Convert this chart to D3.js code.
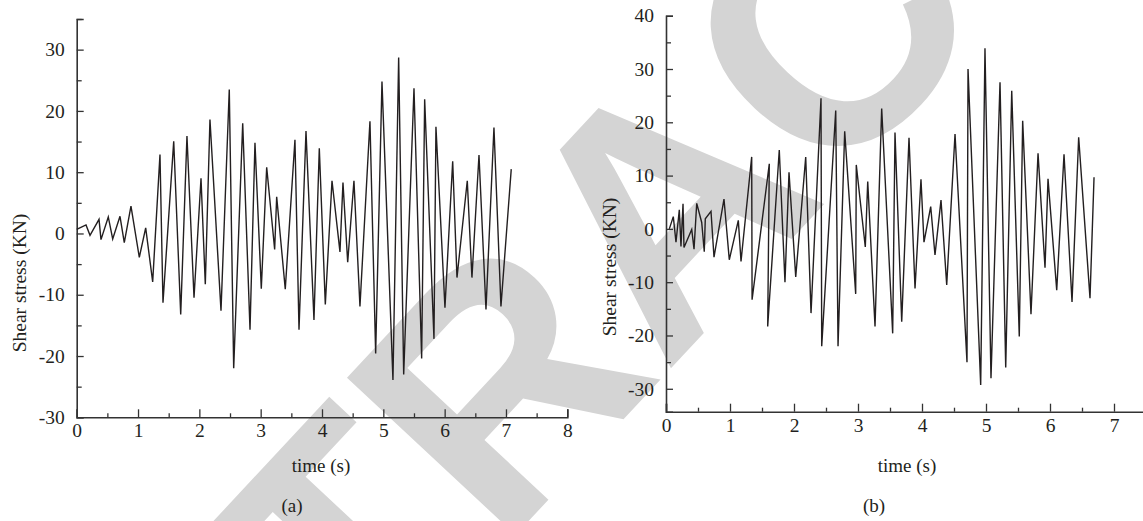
<!DOCTYPE html>
<html>
<head>
<meta charset="utf-8">
<script src="https://cdn.jsdelivr.net/npm/d3@7"></script>
<style>
  body { margin: 0; background: #fff; }
  svg text { font-family: "Liberation Serif", "DejaVu Serif", serif; fill: #231f20; }
</style>
</head>
<body>
<svg id="chart" width="1143" height="521"></svg>
<script>
// panel (a): time (s) and shear stress (KN)
const timeA = [0, 0.152, 0.217, 0.364, 0.396, 0.515, 0.587, 0.706, 0.776, 0.885, 1.021, 1.125, 1.239, 1.358, 1.407,
  1.582, 1.696, 1.798, 1.913, 2.027, 2.097, 2.173, 2.353, 2.488, 2.560, 2.707, 2.826, 2.907, 3.010, 3.098, 3.228,
  3.261, 3.401, 3.559, 3.625, 3.739, 3.869, 3.956, 4.054, 4.163, 4.293, 4.342, 4.419, 4.521, 4.619, 4.782, 4.875,
  4.978, 5.157, 5.250, 5.332, 5.500, 5.625, 5.674, 5.826, 5.858, 6.005, 6.131, 6.201, 6.369, 6.445, 6.560, 6.674,
  6.804, 6.918, 7.086];
const stressA = [0.65, 1.4, -0.3, 2.3, -1.0, 2.7, -0.9, 2.8, -1.5, 4.45, -3.9, 0.9, -7.9, 12.9, -11.3,
  15.05, -13.2, 15.9, -10.5, 9.0, -8.3, 18.6, -12.6, 23.5, -22.0, 18.0, -15.7, 14.8, -9.0, 10.8, -2.6,
  6.0, -9.1, 15.3, -15.7, 16.7, -14.1, 13.9, -11.6, 8.6, -3.0, 8.3, -4.7, 8.6, -11.9, 18.3, -19.6,
  24.8, -23.9, 28.7, -23.0, 23.7, -20.4, 21.9, -17.2, 17.4, -12.1, 11.8, -7.2, 8.6, -7.2, 12.8, -12.4,
  17.3, -11.9, 10.5];

// panel (b)
const timeB = [0.052, 0.114, 0.156, 0.208, 0.234, 0.266, 0.281, 0.402, 0.438, 0.480, 0.558, 0.598, 0.614, 0.703,
  0.750, 0.906, 0.989, 1.130, 1.172, 1.339, 1.345, 1.614, 1.589, 1.770, 1.859, 1.922, 2.027, 2.183, 2.266, 2.422,
  2.433, 2.652, 2.688, 2.792, 2.964, 2.973, 3.114, 3.152, 3.266, 3.370, 3.542, 3.578, 3.683, 3.797, 3.891, 3.984,
  4.031, 4.136, 4.203, 4.297, 4.386, 4.516, 4.703, 4.719, 4.917, 4.984, 5.078, 5.219, 5.308, 5.402, 5.520, 5.573,
  5.703, 5.813, 5.922, 5.969, 6.105, 6.219, 6.344, 6.448, 6.625, 6.688];
const stressB = [0.0, 2.3, -2.5, 3.6, -3.3, 4.7, -3.5, -0.1, -3.8, 4.8, 1.2, -4.3, 1.9, 3.3,
  -5.3, 5.6, -5.8, 1.6, -6.1, 13.5, -13.3, 12.2, -18.3, 14.8, -10.0, 10.6, -9.0, 13.5, -15.8, 24.5,
  -22.0, 22.2, -22.0, 18.3, -12.2, 12.0, -3.4, 8.9, -18.3, 22.6, -19.6, 18.1, -17.4, 17.1, -11.2, 9.3,
  -2.5, 4.2, -4.9, 5.4, -10.5, 17.8, -25.0, 30.0, -29.3, 33.9, -28.0, 27.5, -26.0, 25.9, -20.2, 20.3,
  -16.0, 14.2, -7.3, 9.4, -11.5, 14.0, -13.7, 17.2, -13.0, 9.7];

const xTicksA = [0, 1, 2, 3, 4, 5, 6, 7, 8];
const yTicksA = [-30, -20, -10, 0, 10, 20, 30];
const xTicksB = [0, 1, 2, 3, 4, 5, 6, 7];
const yTicksB = [-30, -20, -10, 0, 10, 20, 30, 40];

const svg = d3.select('#chart');

// retraction watermark, behind everything
svg.append('text')
  .attr('transform', 'translate(662,206) rotate(-47)')
  .attr('text-anchor', 'middle')
  .attr('dy', '0.35em')
  .style('font-family', '"Liberation Sans", Arial, sans-serif')
  .style('font-weight', 'bold')
  .style('font-size', '335px')
  .style('fill', '#d4d4d4')
  .text('RETRACTED');

function drawPanel(cfg) {
  const x = d3.scaleLinear().domain(cfg.xDomain).range(cfg.xRange);
  const y = d3.scaleLinear().domain(cfg.yDomain).range(cfg.yRange);
  const g = svg.append('g');
  const fmt = d => String(d);

  const minorX = d3.range(cfg.xDomain[0], cfg.xDomain[1] + 0.001, 0.5).filter(v => v % 1 !== 0);
  const minorY = d3.range(-35, cfg.yDomain[1] + 0.001, 5).filter(v => v % 10 !== 0 && v >= cfg.yDomain[0]);

  // ticks point inward
  g.append('g').attr('transform', `translate(0,${cfg.yRange[0]})`)
    .call(d3.axisBottom(x).tickValues(cfg.xTicks).tickSize(-8).tickPadding(6).tickFormat(fmt));
  g.append('g').attr('transform', `translate(0,${cfg.yRange[0]})`)
    .call(d3.axisBottom(x).tickValues(minorX).tickSize(-4).tickFormat(''))
    .select('.domain').remove();

  g.append('g').attr('transform', `translate(${cfg.xRange[0]},0)`)
    .call(d3.axisLeft(y).tickValues(cfg.yTicks).tickSize(-7).tickPadding(12).tickFormat(fmt));
  g.append('g').attr('transform', `translate(${cfg.xRange[0]},0)`)
    .call(d3.axisLeft(y).tickValues(minorY).tickSize(-5).tickFormat(''))
    .select('.domain').remove();

  g.selectAll('.domain').attr('stroke', '#333').attr('stroke-width', 1.6);
  g.selectAll('.tick line').attr('stroke', '#333').attr('stroke-width', 1.3);
  g.selectAll('.tick text').style('font-size', '19.5px').style('font-family', '"Liberation Serif", serif').attr('fill', '#231f20');

  const line = d3.line().x(d => x(d[0])).y(d => y(d[1]));
  g.append('path')
    .datum(d3.zip(cfg.t, cfg.v))
    .attr('fill', 'none')
    .attr('stroke', '#231f20')
    .attr('stroke-width', 1.4)
    .attr('d', line);

  g.append('text').attr('x', cfg.titleX).attr('y', 472).attr('text-anchor', 'middle')
    .style('font-size', '19px').text('time (s)');
  g.append('text').attr('x', cfg.tagX).attr('y', 512).attr('text-anchor', 'middle')
    .style('font-size', '19px').text(cfg.tag);
  g.append('text')
    .attr('transform', `translate(${cfg.yLabelX},${cfg.yLabelY}) rotate(-90)`)
    .attr('text-anchor', 'middle')
    .style('font-size', '19.5px').text('Shear stress (KN)');
}

drawPanel({
  t: timeA, v: stressA,
  xDomain: [0, 8], xRange: [76.7, 567.3],
  yDomain: [-30, 35], yRange: [417.3, 19],
  xTicks: xTicksA, yTicks: yTicksA,
  titleX: 321, tagX: 292, tag: '(a)', yLabelX: 26, yLabelY: 283
});

drawPanel({
  t: timeB, v: stressB,
  xDomain: [0, 7.5], xRange: [666, 1146],
  yDomain: [-34.3, 40], yRange: [411.7, 15.7],
  xTicks: xTicksB, yTicks: yTicksB,
  titleX: 907, tagX: 874, tag: '(b)', yLabelX: 616, yLabelY: 267
});
</script>
</body>
</html>
